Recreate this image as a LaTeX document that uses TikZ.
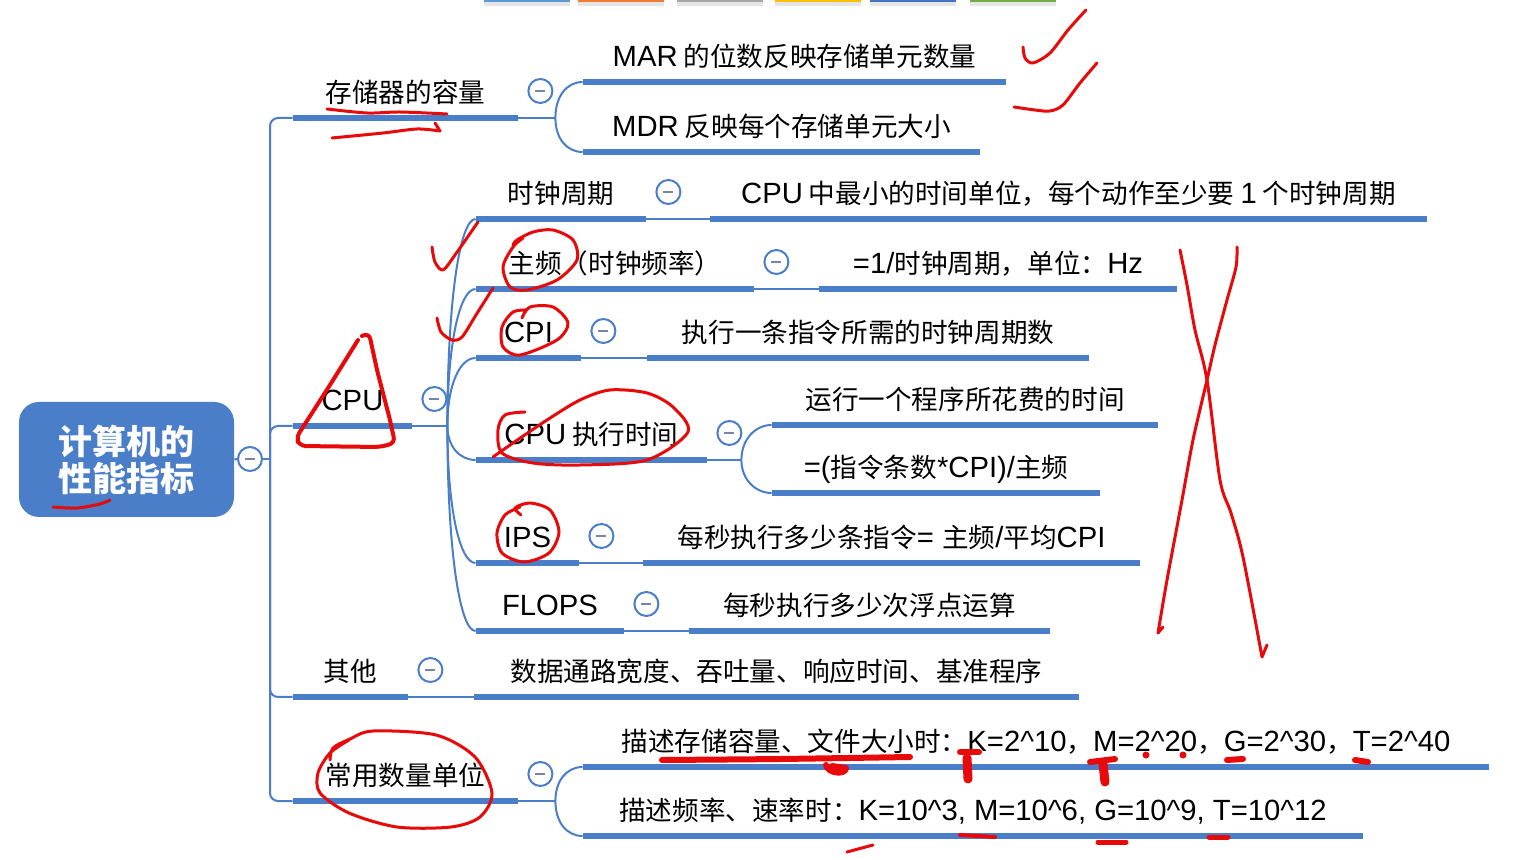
\documentclass[tikz,border=0pt]{standalone}
\usepackage{fontspec}
\setmainfont{Noto Sans CJK SC}
\newfontfamily\lat{Liberation Sans}[Scale=1.1]
\usetikzlibrary{calc}
\definecolor{mapblue}{RGB}{74,126,201}
\definecolor{minusgray}{RGB}{120,132,168}
\definecolor{pen}{RGB}{232,10,10}
\definecolor{tabA}{RGB}{91,155,213}
\definecolor{tabB}{RGB}{237,125,49}
\definecolor{tabC}{RGB}{165,165,165}
\definecolor{tabD}{RGB}{255,192,0}
\definecolor{tabE}{RGB}{68,114,196}
\definecolor{tabF}{RGB}{112,173,71}
\newcommand\caret{\textasciicircum}

\begin{document}
\begin{tikzpicture}[x=0.5pt,y=-0.5pt,
    rootbox/.style={rectangle,rounded corners=10pt,fill=mapblue,text=white,
      minimum width=107.5pt,minimum height=57.5pt,align=center,
      font=\fontsize{17}{18.5}\selectfont\bfseries},
    topic/.style={anchor=south,inner xsep=0pt,inner ysep=0pt,text height=10pt,
      text depth=7.6pt,font=\fontsize{13.3}{15}\selectfont},
    barlen/.style={minimum width=#1*0.5pt},
    uline/.style={mapblue,line width=3.2pt},
    link/.style={mapblue,line width=1pt},
    fold/.style={circle,draw=mapblue,line width=1pt,fill=white,minimum size=12pt,inner sep=0pt,
      path picture={\draw[minusgray,line width=0.9pt]
        ([xshift=-2.5pt]path picture bounding box.center) -- ([xshift=2.5pt]path picture bounding box.center);}},
    ink/.style={pen,line width=1.5pt,line cap=round,line join=round},
  ]
    \fill[white] (0,0) rectangle (1521,860);
    \useasboundingbox (0,0) rectangle (1521,860);

    % Toolbar tabs at the top edge
    \foreach \x/\c in {484/tabA,578/tabB,677/tabC,775/tabD,870/tabE,970/tabF}{
      \fill[black!10] (\x,2) rectangle ++(86,4);
      \fill[\c] (\x,0) rectangle ++(86,2.5);
    }

    % Root
    \node[rootbox] (root) at (126.5,459.5) {计算机的\\性能指标};
    \node[fold] (f-root) at (250,459) {};

    % First level
    \node[topic,barlen=225] (mem)   at (405.5,118) {存储器的容量};
    \node[topic,barlen=119] (cpu)   at (352.5,426) {\lat CPU};
    \node[topic,barlen=115] (other) at (350.5,697) {其他};
    \node[topic,barlen=225] (unit)  at (405.5,801) {常用数量单位};

    % Memory
    \node[topic,barlen=423] (mar) at (794.5,82)  {{\lat MAR} 的位数反映存储单元数量};
    \node[topic,barlen=397] (mdr) at (781.5,152) {{\lat MDR} 反映每个存储单元大小};

    % CPU
    \node[topic,barlen=170] (clk)   at (561,219)   {时钟周期};
    \node[topic,barlen=278] (freq)  at (615,289)   {主频（时钟频率）};
    \node[topic,barlen=105] (cpi)   at (528.5,358) {\lat CPI};
    \node[topic,barlen=231] (time)  at (591.5,460) {{\lat CPU} 执行时间};
    \node[topic,barlen=103] (ips)   at (527.5,563) {\lat IPS};
    \node[topic,barlen=148] (flops) at (550,631)   {\lat FLOPS};

    \node[topic,barlen=717] (clkd)   at (1068.5,219) {{\lat CPU} 中最小的时间单位，每个动作至少要 {\lat 1} 个时钟周期};
    \node[topic,barlen=358] (freqd)  at (998,289)    {{\lat =1/}时钟周期，单位：{\lat Hz}};
    \node[topic,barlen=442] (cpid)   at (868,358)    {执行一条指令所需的时钟周期数};
    \node[topic,barlen=386] (timea)  at (965,425)    {运行一个程序所花费的时间};
    \node[topic,barlen=328] (timeb)  at (936,493)    {{\lat =(}指令条数{\lat *CPI)/}主频};
    \node[topic,barlen=497] (ipsd)   at (891.5,563)  {每秒执行多少条指令{\lat = }主频{\lat /}平均{\lat CPI}};
    \node[topic,barlen=361] (flopsd) at (869.5,631)  {每秒执行多少次浮点运算};

    % Others and units
    \node[topic,barlen=605] (otherd) at (776.5,697) {数据通路宽度、吞吐量、响应时间、基准程序};
    \node[topic,barlen=906] (unita)  at (1036,767)
      {描述存储容量、文件大小时：{\lat K=2\caret10}，{\lat M=2\caret20}，{\lat G=2\caret30}，{\lat T=2\caret40}};
    \node[topic,barlen=780] (unitb)  at (973,836)
      {描述频率、速率时：{\lat K=10\caret3, M=10\caret6, G=10\caret9, T=10\caret12}};

    % Connectors
    \coordinate (trunk) at ([xshift=3.5pt]f-root.east);
    \draw[link] (root.east) -- (f-root.west);
    \draw[link] (f-root.east) -- (trunk);
    \foreach \n in {mem,cpu,other,unit}
      \draw[link,rounded corners=4pt] (trunk) |- (\n.south west);

    \draw[link] (mem.south east) -- ++(37,0) coordinate (memhub);
    \draw[link] (cpu.south east) -- ++(35,0) coordinate (cpuhub);
    \draw[link] (time.south east) -- ++(34,0) coordinate (timehub);
    \draw[link] (unit.south east) -- ++(37,0) coordinate (unithub);
    \foreach \h/\n in {memhub/mar,memhub/mdr,cpuhub/clk,cpuhub/freq,cpuhub/cpi,cpuhub/time,
                       cpuhub/ips,cpuhub/flops,timehub/timea,timehub/timeb,unithub/unita,unithub/unitb}
      \draw[link] (\h) .. controls ($(\h)!0.6!(\h|-\n.south west)$)
        and ($(\n.south west)+(-16,0)$) .. (\n.south west);

    \foreach \a/\b in {clk/clkd,freq/freqd,cpi/cpid,ips/ipsd,flops/flopsd,other/otherd}
      \draw[link] (\a.south east) -- (\b.south west);

    % Underlines
    \foreach \n in {mem,cpu,other,unit,mar,mdr,clk,freq,cpi,time,ips,flops,
                    clkd,freqd,cpid,timea,timeb,ipsd,flopsd,otherd,unita,unitb}
      \draw[uline] (\n.south west) -- (\n.south east);

    % Fold buttons
    \foreach \n in {mem,cpu,other,unit,clk,freq,cpi,time,ips,flops}
      \node[fold] (f-\n) at ([xshift=11pt,yshift=13.5pt]\n.south east) {};

    % Red pen marks
    \draw[ink] plot[smooth] coordinates {(1023,47) (1025,58) (1033,63) (1050,53) (1068,30) (1086,10)};
    \draw[ink] plot[smooth] coordinates {(1014,107) (1035,110) (1050,111) (1063,105) (1080,83) (1097,63)};
    \draw[ink] plot[smooth] coordinates {(327,109) (367,113) (400,112) (447,114)};
    \draw[ink] plot[smooth] coordinates {(332,138) (383,133) (417,129) (440,131)} -- (435,123);
    \draw[ink] plot[smooth] coordinates {(53,507) (77,508) (100,504) (110,500)};
    \draw[ink,line width=2pt,rounded corners=3pt] (362,336) -- (369,333) -- (377,370) -- (390,420)
      -- (395,443) -- (380,447) -- (300,446) -- (296,438) -- (330,385) -- (358,340);
    \draw[ink] plot[smooth] coordinates {(432,247) (435,262) (443,270) (455,255) (478,222)};
    \draw[ink] plot[smooth] coordinates {(437,318) (441,332) (452,340) (462,337) (476,315) (493,288)};
    \draw[ink] plot[smooth] coordinates {(523,238) (513,247) (503,267) (510,287) (527,290) (557,280)
      (577,260) (573,240) (553,230) (533,232) (517,240) (513,245)};
    \draw[ink] plot[smooth] coordinates {(522,318) (530,307) (553,307) (568,323) (557,340) (520,355)
      (503,347) (502,327) (513,312) (527,310)};
    \draw[ink] plot[smooth] coordinates {(525,412) (505,415) (498,430) (502,453) (533,463) (580,465)
      (647,460) (688,432) (673,407) (647,393) (610,390) (580,400) (547,420) (513,443) (493,457)};
    \draw[ink] plot[smooth] coordinates {(521,515) (515,508) (530,503) (550,510) (559,532) (549,553)
      (524,562) (502,553) (497,533) (505,515) (520,507)};
    \draw[ink] plot[smooth] coordinates {(330,760) (333,748) (350,739) (373,731) (436,735) (475,757)
      (492,793) (480,817) (451,827) (397,827) (349,813) (320,793) (318,773) (330,753) (349,740)};
    \draw[ink] plot[smooth] coordinates {(1180,250) (1187,285) (1195,330) (1207,380) (1220,480)
      (1231,513) (1243,557) (1262,657)} -- (1267,645);
    \draw[ink] plot[smooth] coordinates {(1237,247) (1236,267) (1227,300) (1215,345) (1207,380)
      (1193,440) (1182,500) (1167,580) (1158,633)} -- (1163,627);

    % Marks on the units lines
    \draw[ink,line width=3pt] plot[smooth] coordinates {(662,760) (780,759) (910,757)};
    \draw[ink,line width=3pt] (826,765) .. controls (828,774) and (846,775) .. (846,768) -- (832,766);
    \draw[ink,line width=3pt] (960,752) -- (979,752);
    \draw[ink,line width=4.5pt] (967,758) -- (968,779);
    \draw[ink,line width=3pt] (1090,762) -- (1115,759);
    \draw[ink,line width=4.5pt] (1103,764) -- (1105,782);
    \fill[pen] (1146,755) circle (3.5);
    \fill[pen] (1183,755) circle (3.5);
    \draw[ink,line width=3pt] (1227,760) -- (1243,759);
    \draw[ink,line width=3pt] (1355,760) -- (1368,762);
    \draw[ink] (847,852) -- (873,845);
    \draw[ink,line width=2pt] (960,835) -- (995,837);
    \draw[ink,line width=2.5pt] (1098,842) -- (1126,842);
    \draw[ink,line width=2.5pt] (1209,837) -- (1228,837);
  \end{tikzpicture}
\end{document}
